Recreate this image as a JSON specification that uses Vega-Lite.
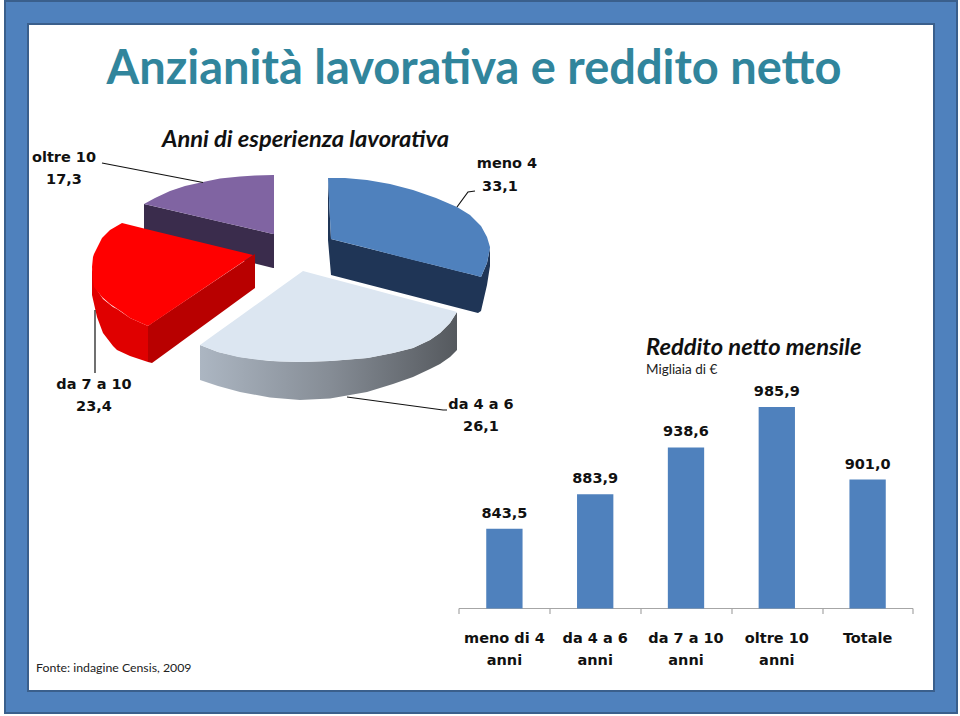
{"$schema":"https://vega.github.io/schema/vega-lite/v6.json","width":960,"height":716,"padding":0,"autosize":{"type":"fit","contains":"padding"},"background":"white","view":{"stroke":null},
"datasets":{
"frame":[{"part":"outer","l":5,"r":957,"t":1,"b":713},{"part":"inner","l":28,"r":934,"t":24,"b":691}],
"sides":[
{"s":"side oltre 10","h":144,"u":204,"d":236},{"s":"side oltre 10","h":273,"u":234,"d":268},{"s":"side oltre 10","h":274,"u":175,"d":268},
{"s":"side meno 4","h":328,"u":178,"d":240},{"s":"side meno 4","h":331,"u":239,"d":275},{"s":"side meno 4","h":478,"u":276,"d":313},{"s":"side meno 4","h":481,"u":277,"d":311},{"s":"side meno 4","h":487,"u":263,"d":285},{"s":"side meno 4","h":490,"u":248,"d":266},
{"s":"side 7 outer","h":92,"u":267,"d":295},{"s":"side 7 outer","h":97,"u":290,"d":317},{"s":"side 7 outer","h":103,"u":299,"d":333},{"s":"side 7 outer","h":113,"u":307,"d":346},{"s":"side 7 outer","h":117,"u":309,"d":350},{"s":"side 7 outer","h":130,"u":318,"d":356},{"s":"side 7 outer","h":148,"u":326,"d":362},
{"s":"side 7 cut","h":148,"u":326,"d":362},{"s":"side 7 cut","h":152,"u":323,"d":363},{"s":"side 7 cut","h":255,"u":254,"d":288}
],
"lightSide":[{"h":200,"u":345,"d":380},{"h":218,"u":352,"d":386},{"h":240,"u":357,"d":392},{"h":270,"u":361,"d":397.5},{"h":300,"u":362,"d":400},{"h":330,"u":361,"d":398.5},{"h":367,"u":358,"d":392},{"h":393,"u":353,"d":384},{"h":413,"u":348,"d":377},{"h":430,"u":340,"d":369},{"h":440,"u":333,"d":364},{"h":450,"u":323,"d":357},{"h":457,"u":312,"d":350}],
"tops":[
{"s":"oltre 10","h":144,"u":204,"d":204},{"s":"oltre 10","h":155,"u":198,"d":206.6},{"s":"oltre 10","h":170,"u":191,"d":210},{"s":"oltre 10","h":185,"u":186,"d":213.5},{"s":"oltre 10","h":203,"u":182,"d":217.7},{"s":"oltre 10","h":220,"u":178.5,"d":221.7},{"s":"oltre 10","h":240,"u":176.5,"d":226.3},{"s":"oltre 10","h":255,"u":175.5,"d":229.8},{"s":"oltre 10","h":273,"u":175,"d":234},{"s":"oltre 10","h":274,"u":175,"d":234},
{"s":"da 7 a 10","h":92,"u":267,"d":267},{"s":"da 7 a 10","h":93,"u":257,"d":279},{"s":"da 7 a 10","h":94,"u":254,"d":287},{"s":"da 7 a 10","h":102,"u":238,"d":297},{"s":"da 7 a 10","h":110,"u":230,"d":304},{"s":"da 7 a 10","h":122,"u":223,"d":312},{"s":"da 7 a 10","h":130,"u":225,"d":318},{"s":"da 7 a 10","h":148,"u":229.4,"d":326},{"s":"da 7 a 10","h":253,"u":255,"d":255},
{"s":"da 4 a 6","h":200,"u":345,"d":345},{"s":"da 4 a 6","h":218,"u":332.1,"d":352},{"s":"da 4 a 6","h":238,"u":317.7,"d":357},{"s":"da 4 a 6","h":260,"u":301.9,"d":360},{"s":"da 4 a 6","h":280,"u":287.5,"d":361.5},{"s":"da 4 a 6","h":303,"u":271,"d":362},{"s":"da 4 a 6","h":330,"u":278.2,"d":361},{"s":"da 4 a 6","h":350,"u":283.5,"d":359.5},{"s":"da 4 a 6","h":368,"u":288.3,"d":358},{"s":"da 4 a 6","h":393,"u":295,"d":353},{"s":"da 4 a 6","h":413,"u":300.3,"d":348},{"s":"da 4 a 6","h":430,"u":304.8,"d":340},{"s":"da 4 a 6","h":440,"u":307.4,"d":333},{"s":"da 4 a 6","h":450,"u":310,"d":323},{"s":"da 4 a 6","h":457,"u":312,"d":312},
{"s":"meno 4","h":328,"u":178,"d":178},{"s":"meno 4","h":331,"u":178,"d":239},{"s":"meno 4","h":345,"u":178,"d":242.5},{"s":"meno 4","h":367,"u":180,"d":248},{"s":"meno 4","h":390,"u":184,"d":254},{"s":"meno 4","h":413,"u":190,"d":260},{"s":"meno 4","h":436,"u":198,"d":265.6},{"s":"meno 4","h":457,"u":207,"d":271},{"s":"meno 4","h":470,"u":215,"d":274},{"s":"meno 4","h":481,"u":226,"d":277},{"s":"meno 4","h":487,"u":237,"d":263},{"s":"meno 4","h":490,"u":247,"d":248}
],
"leaders":[
{"k":"a","h":102,"v":163,"o":1},{"k":"a","h":203,"v":182.5,"o":2},
{"k":"c","h":457,"v":207,"o":1},{"k":"c","h":468,"v":192,"o":2},{"k":"c","h":475,"v":191,"o":3},
{"k":"d","h":347,"v":397,"o":1},{"k":"d","h":443,"v":410,"o":2},{"k":"d","h":447,"v":410,"o":3},
{"k":"b","h":95,"v":310,"o":1},{"k":"b","h":95,"v":373,"o":2}
],
"axisLine":[
{"h":459,"h2":913,"v":608.5,"v2":608.5},
{"h":459,"h2":459,"v":608.5,"v2":614},{"h":550,"h2":550,"v":608.5,"v2":614},{"h":641,"h2":641,"v":608.5,"v2":614},{"h":732,"h2":732,"v":608.5,"v2":614},{"h":823,"h2":823,"v":608.5,"v2":614},{"h":913,"h2":913,"v":608.5,"v2":614}
],
"pieLabels":[
{"t":"oltre 10","h":64,"v":158},{"t":"17,3","h":64,"v":180},
{"t":"meno 4","h":507,"v":164},{"t":"33,1","h":500,"v":187},
{"t":"da 7 a 10","h":94,"v":385},{"t":"23,4","h":94,"v":407},
{"t":"da 4 a 6","h":481,"v":405},{"t":"26,1","h":481,"v":427}
],
"notes":[
{"t":"Anni di esperienza lavorativa","h":162,"v":140},
{"t":"Reddito netto mensile","h":646,"v":348}
],
"bars":[
{"cat":"meno di 4|anni","value":843.5,"lab":"843,5"},{"cat":"da 4 a 6|anni","value":883.9,"lab":"883,9"},{"cat":"da 7 a 10|anni","value":938.6,"lab":"938,6"},{"cat":"oltre 10|anni","value":985.9,"lab":"985,9"},{"cat":"Totale","value":901.0,"lab":"901,0"}
]},
"layer":[
{"layer":[
{"data":{"name":"frame"},"mark":{"type":"rect","strokeWidth":2},
"encoding":{"x":{"field":"l","type":"quantitative","scale":{"domain":[0,960],"range":[0,960],"nice":false,"zero":false},"axis":null},"x2":{"field":"r"},"y":{"field":"t","type":"quantitative","scale":{"domain":[0,716],"range":[0,716],"nice":false,"zero":false},"axis":null},"y2":{"field":"b"},
"fill":{"field":"part","type":"nominal","scale":{"domain":["outer","inner","side oltre 10","side meno 4","side 7 outer","side 7 cut","oltre 10","da 7 a 10","da 4 a 6","meno 4"],"range":["#4f81bd","#ffffff","#3a2c4c","#1f3556","#e00000","#b80000","#8064a2","#ff0000","#dce6f1","#4f81bd"]},"legend":null},"stroke":{"value":"#3a5f8c"}}},
{"data":{"name":"sides"},"mark":{"type":"area","interpolate":"linear"},
"encoding":{"x":{"field":"h","type":"quantitative"},"y":{"field":"u","type":"quantitative"},"y2":{"field":"d"},"detail":{"field":"s"},
"fill":{"field":"s","type":"nominal"}}},
{"data":{"name":"lightSide"},"mark":{"type":"area","interpolate":"linear","fill":{"x1":0,"y1":0,"x2":1,"y2":0,"gradient":"linear","stops":[{"offset":0,"color":"#acb6c2"},{"offset":0.5,"color":"#868d96"},{"offset":1,"color":"#55595e"}]}},
"encoding":{"x":{"field":"h","type":"quantitative"},"y":{"field":"u","type":"quantitative"},"y2":{"field":"d"}}},
{"data":{"name":"tops"},"mark":{"type":"area","interpolate":"linear"},
"encoding":{"x":{"field":"h","type":"quantitative"},"y":{"field":"u","type":"quantitative"},"y2":{"field":"d"},"detail":{"field":"s"},
"fill":{"field":"s","type":"nominal"}}},
{"data":{"name":"leaders"},"mark":{"type":"line","color":"#111111","strokeWidth":1.2},
"encoding":{"x":{"field":"h","type":"quantitative"},"y":{"field":"v","type":"quantitative"},"detail":{"field":"k"},"order":{"field":"o"}}},
{"data":{"name":"axisLine"},"mark":{"type":"rule","color":"#a6a6a6","strokeWidth":1.2},
"encoding":{"x":{"field":"h","type":"quantitative"},"x2":{"field":"h2"},"y":{"field":"v","type":"quantitative"},"y2":{"field":"v2"}}},
{"data":{"name":"pieLabels"},"mark":{"type":"text","font":"DejaVu Sans","fontWeight":"bold","fontSize":14.5,"color":"#111111","align":"center","baseline":"middle"},
"encoding":{"x":{"field":"h","type":"quantitative"},"y":{"field":"v","type":"quantitative"},"text":{"field":"t"}}},
{"data":{"values":[{"t":"Anzianità lavorativa e reddito netto"}]},"mark":{"type":"text","font":"Lato","fontWeight":"bold","fontSize":47,"color":"#31859c","align":"center","baseline":"middle"},
"encoding":{"x":{"datum":474},"y":{"datum":70},"text":{"field":"t"}}},
{"data":{"name":"notes"},"mark":{"type":"text","font":"Lato","fontWeight":"bold","fontStyle":"italic","fontSize":23.7,"color":"#111111","align":"left","baseline":"middle"},
"encoding":{"x":{"field":"h","type":"quantitative"},"y":{"field":"v","type":"quantitative"},"text":{"field":"t"}}},
{"data":{"values":[{"t":"Migliaia di €"}]},"mark":{"type":"text","font":"Lato","fontSize":13.5,"color":"#222222","align":"left","baseline":"middle"},
"encoding":{"x":{"datum":646},"y":{"datum":370},"text":{"field":"t"}}},
{"data":{"values":[{"t":"Fonte: indagine Censis, 2009"}]},"mark":{"type":"text","font":"Lato","fontSize":12.3,"color":"#222222","align":"left","baseline":"middle"},
"encoding":{"x":{"datum":36},"y":{"datum":668},"text":{"field":"t"}}}
]},
{"data":{"name":"bars"},
"encoding":{"x":{"field":"cat","type":"nominal","sort":null,"scale":{"range":[459,913],"paddingInner":0.6,"paddingOuter":0.3},"axis":null}},
"layer":[
{"mark":{"type":"bar","color":"#4f81bd"},
"encoding":{"y":{"field":"value","type":"quantitative","scale":{"domain":[750,1000],"range":[608.5,395],"nice":false,"zero":false},"axis":null},"y2":{"datum":750}}},
{"mark":{"type":"text","font":"DejaVu Sans","fontWeight":"bold","fontSize":14.5,"color":"#111111","baseline":"middle","dy":-15},
"encoding":{"y":{"field":"value","type":"quantitative"},"text":{"field":"lab"}}},
{"mark":{"type":"text","font":"DejaVu Sans","fontWeight":"bold","fontSize":14.5,"color":"#111111","baseline":"top","lineBreak":"|","lineHeight":22,"dy":23},
"encoding":{"y":{"datum":750},"text":{"field":"cat"}}}
]}
],
"resolve":{"scale":{"x":"independent","y":"independent","fill":"independent"}}
}
